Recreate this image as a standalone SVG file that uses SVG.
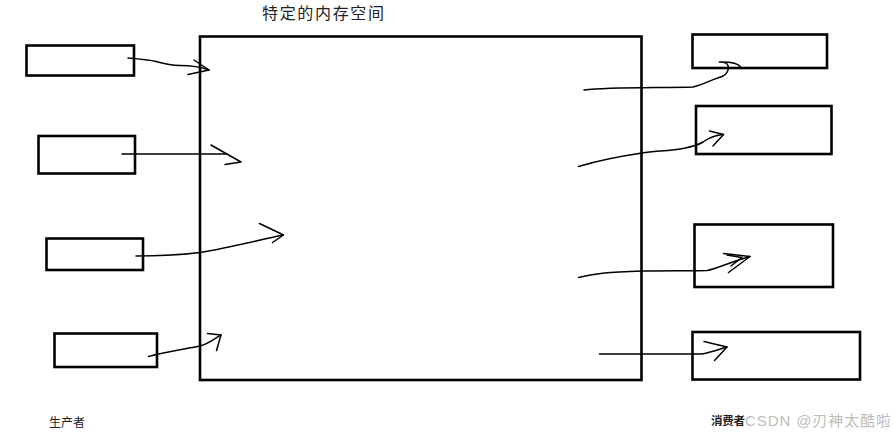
<svg xmlns="http://www.w3.org/2000/svg" width="895" height="439" viewBox="0 0 895 439">
<style>
.box{fill:none;stroke:#000;stroke-width:2.6}
.ln{fill:none;stroke:#000;stroke-width:1.5;stroke-linecap:round;stroke-linejoin:round}
.lbl{font-family:"Noto Sans CJK SC","Liberation Sans",sans-serif;fill:#222}
</style>
<rect width="895" height="439" fill="#fff"/>
<g id="memory">
<rect class="box" x="200" y="36.5" width="441.5" height="343.5"/>
<text class="lbl" x="262" y="19" font-size="16" textLength="122" lengthAdjust="spacing">特定的内存空间</text>
</g>
<g id="producer1"><rect class="box" x="26.5" y="45.5" width="107.5" height="30"/></g>
<g id="producer2"><rect class="box" x="38.5" y="136" width="96.5" height="37.5"/></g>
<g id="producer3"><rect class="box" x="46.5" y="238.5" width="96.5" height="31.5"/></g>
<g id="producer4"><rect class="box" x="54.5" y="333.5" width="102.5" height="33.5"/></g>
<g id="consumer1"><rect class="box" x="692.5" y="34.5" width="134.5" height="33.5"/></g>
<g id="consumer2"><rect class="box" x="696" y="106" width="135.5" height="48"/></g>
<g id="consumer3"><rect class="box" x="694.5" y="224.5" width="138.5" height="62.5"/></g>
<g id="consumer4"><rect class="box" x="692.5" y="332" width="167.5" height="47.5"/></g>
<g id="labels">
<text class="lbl" x="49" y="427" font-size="12">生产者</text>
<text class="lbl" x="711" y="424.5" font-size="11.5" font-weight="bold" textLength="34" lengthAdjust="spacing">消费者</text>
<text x="745" y="426" font-size="15" fill="#bdbdbd" font-family="'Liberation Sans','Noto Sans CJK SC',sans-serif" textLength="146" lengthAdjust="spacing">CSDN @刃神太酷啦</text>
</g>
<g id="connectors">
<path class="ln" d="M128,58 C140,59 150,60 156,61.5 C165,64 172,65.5 180,65.5 C190,65.5 198,66 209,70"/>
<path class="ln" d="M194,60 L209,70 L188,74.5"/>
<path class="ln" d="M122,154 L227,154"/>
<path class="ln" d="M211,145 L241,162 L225,164.5"/>
<path class="ln" d="M136,256 C160,256 180,255 200,252.5 C225,249 255,241 283,235"/>
<path class="ln" d="M259.5,223.5 L283.5,235 L272.5,242.5"/>
<path class="ln" d="M148.5,356.5 C165,352 185,349 200,346 C210,343 215,338 221,335"/>
<path class="ln" d="M207.5,333.5 L221,335 L216.5,350.5"/>
<path class="ln" d="M584,90 C610,87 660,88 693,87 C705,84 713,79 722,76.5 C729,73 730,66 726,63 C721,61 716,62.5 722,62 C732,62 738,63 740.5,67"/>
<path class="ln" d="M578.5,166.5 C600,160 615,157 642,153 C665,150 690,150 703,142 C710,137 716,135 723.5,134.5"/>
<path class="ln" d="M709.5,131 L723.5,134.5 L713,146"/>
<path class="ln" d="M578.5,277.5 C595,274 605,272 642,271 C670,270.5 695,271 707,270.5 C717,269 724,264 750,256.5"/>
<path class="ln" d="M723.5,253.5 L750,256.5 L728.5,272.5"/>
<path class="ln" d="M727,255 L742,257.5 L731,266"/>
<path class="ln" d="M599.5,354 L702,354 C712,352 720,349 727,347"/>
<path class="ln" d="M704,341.5 L727,347 L714.5,360.5"/>
</g>
</svg>
